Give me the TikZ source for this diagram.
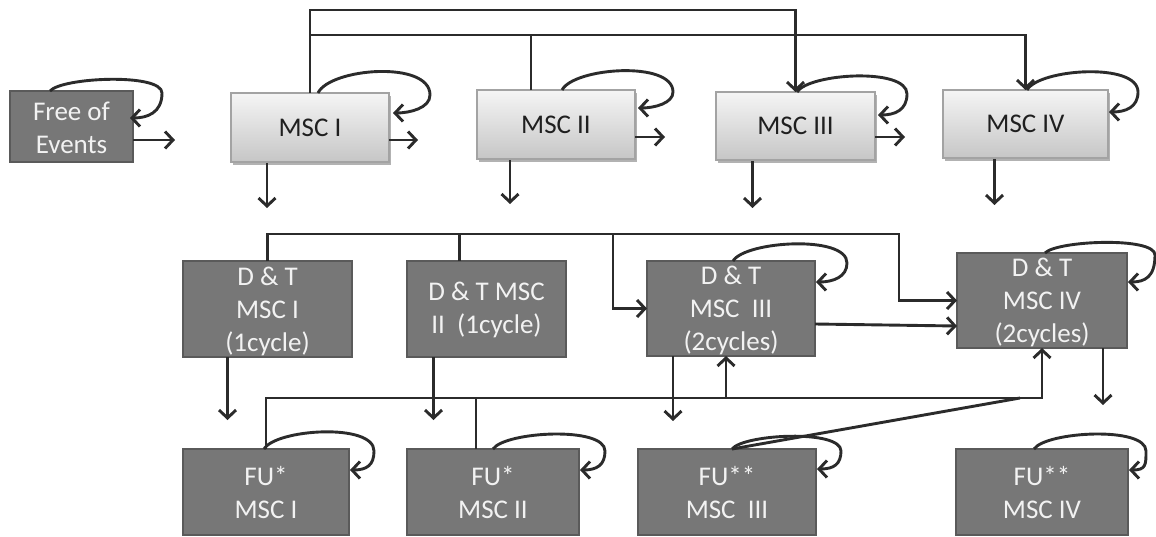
\documentclass[tikz,border=0pt]{standalone}
\usepackage{fontspec}
\setmainfont{Carlito}
\usetikzlibrary{arrows.meta,calc,shadows}

\definecolor{linecol}{HTML}{2B2B2B}
\definecolor{boxfill}{HTML}{777777}
\definecolor{boxline}{HTML}{5A5A5A}
\definecolor{lighttop}{HTML}{F5F5F5}
\definecolor{lightbot}{HTML}{C6C6C6}
\definecolor{lightline}{HTML}{A3A3A3}

% self-loop: node, start offset from north west, rise, reach beyond east,
% end depth below the top, end offset from east
\newcommand\selfarc[6]{%
  \draw[arr] ($(#1.north west)+(#2,0)$)
    .. controls +(12,-1.25*#3) and +(0,-1.65*#3-2) .. ($(#1.north east)+(#4,2)$)
    .. controls +(0,#5-7) and +(17,0) .. ($(#1.north east)+(#6,#5)$);}

\begin{document}
\begin{tikzpicture}[x=1pt,y=-1pt,
  every node/.style={inner sep=0pt,outer sep=0pt},
  darkbox/.style={rectangle,draw=boxline,fill=boxfill,line width=1.8pt},
  lightbox/.style={rectangle,draw=lightline,top color=lighttop,bottom color=lightbot,line width=1.3pt,
    drop shadow={shadow xshift=2pt,shadow yshift=-2.5pt,opacity=.3,fill=black}},
  wtext/.style={text=white!95!black,align=center,font=\fontsize{27}{33}\selectfont},
  btext/.style={text=black!88,align=center,font=\fontsize{27}{33}\selectfont},
  conn/.style={draw=linecol,line width=2.9pt},
  arr/.style={conn,-{Straight Barb[length=8pt,width=17pt]}},
]
\useasboundingbox (0,0) rectangle (1156,536);

% ---- first row: states ----
\node[darkbox,minimum width=123pt,minimum height=71pt] (fe) at (71.5,126.5) {};
\node[wtext] (fet) at ($(fe)+(0,1)$) {Free of\\Events};
\node[lightbox,minimum width=158pt,minimum height=69pt] (m1) at (310,127.5) {};
\node[btext] (m1t) at (m1) {MSC I};
\node[lightbox,minimum width=158pt,minimum height=69pt] (m2) at (556,124.5) {};
\node[btext] (m2t) at (m2) {MSC II};
\node[lightbox,minimum width=159pt,minimum height=68pt] (m3) at (795.5,126) {};
\node[btext] (m3t) at (m3) {MSC III};
\node[lightbox,minimum width=165pt,minimum height=68pt] (m4) at (1025.5,124) {};
\node[btext] (m4t) at (m4) {MSC IV};

% ---- second row: detection and treatment ----
\node[darkbox,minimum width=169pt,minimum height=96pt] (d1) at (267.5,309) {};
\node[wtext] (d1t) at ($(d1)+(0,2)$) {D \& T\\MSC I\\(1cycle)};
\node[darkbox,minimum width=159pt,minimum height=96pt] (d2) at (486.5,309) {};
\node[wtext] (d2t) at ($(d2)+(0,1)$) {D \& T MSC\\II\ \ (1cycle)};
\node[darkbox,minimum width=168pt,minimum height=95pt] (d3) at (731,308.5) {};
\node[wtext] (d3t) at ($(d3)+(0,2)$) {D \& T\\MSC\ \ III\\(2cycles)};
\node[darkbox,minimum width=170pt,minimum height=95pt] (d4) at (1042,300.5) {};
\node[wtext] (d4t) at ($(d4)+(0,2)$) {D \& T\\MSC IV\\(2cycles)};

% ---- third row: follow-up ----
\node[darkbox,minimum width=166pt,minimum height=86pt] (f1) at (266,492) {};
\node[wtext] (f1t) at (f1) {FU*\\MSC I};
\node[darkbox,minimum width=172pt,minimum height=86pt] (f2) at (493,492) {};
\node[wtext] (f2t) at (f2) {FU*\\MSC II};
\node[darkbox,minimum width=178pt,minimum height=86pt] (f3) at (727,492) {};
\node[wtext] (f3t) at (f3) {FU**\\MSC\ \ III};
\node[darkbox,minimum width=172pt,minimum height=86pt] (f4) at (1042,492) {};
\node[wtext] (f4t) at (f4) {FU**\\MSC IV};

% ---- self loops ----
\selfarc{fe}{40}{11}{29}{27}{-3}
\selfarc{m1}{87}{20}{41}{20}{4}
\selfarc{m2}{85}{18}{38}{18}{3}
\selfarc{m3}{81}{15}{32}{23}{3}
\selfarc{m4}{84}{17}{30}{22}{1}
\selfarc{d3}{86}{16}{32}{21}{1}
\selfarc{d4}{88}{10}{28}{29}{1}
\selfarc{f1}{81}{16}{25}{21}{1}
\selfarc{f2}{86}{14}{26}{21}{1}
\selfarc{f3}{94}{12}{25}{20}{1}
\selfarc{f4}{78}{14}{18}{21}{1}

% ---- first row: outgoing arrows ----
\draw[arr] ($(fe.east)+(0,13.5)$) -- ++(42,0);
\draw[arr] ($(m1.east)+(0,12.5)$) -- ++(29,0);
\draw[arr] ($(m2.east)+(0,12.5)$) -- ++(30,0);
\draw[arr] ($(m3.east)+(0,11)$) -- ++(30,0);
\draw[arr] ($(m1.south)+(-43,1)$) -- ++(0,45);
\draw[arr] ($(m2.south)+(-46,1)$) -- ++(0,44);
\draw[arr] ($(m3.south)+(-43,1)$) -- ++(0,47);
\draw[arr] ($(m4.south)+(-31,1)$) -- ++(0,46);

% ---- feedback lines over the first row ----
\coordinate (ya) at (0,10);
\coordinate (yb) at (0,35);
\draw[arr] (m1.north) -- (m1.north |- ya) -| (m3.north);
\draw[arr] (m1.north |- yb) -| (m4.north);
\coordinate (m2t) at ($(m2.north)+(-25,0)$);
\draw[conn] (m2t) -- (m2t |- yb);

% ---- lines over the second row ----
\coordinate (yc) at (0,234);
\coordinate (q4) at (899,234);
\coordinate (q3) at (613,234);
\draw[arr] (d1.north) |- (q4) |- (d4.west);
\draw[arr] (q3) |- (d3.west);
\coordinate (d2t) at ($(d2.north)+(-27,0)$);
\draw[conn] (d2t) -- (d2t |- yc);
\draw[arr] ($(d3.east)+(0,15.5)$) -- ($(d4.west)+(0,25.5)$);

% ---- second row: outgoing arrows ----
\draw[arr] ($(d1.south)+(-40,0)$) -- ++(0,63);
\draw[arr] ($(d2.south)+(-53,0)$) -- ++(0,63);
\draw[arr] ($(d3.south)+(-58,0)$) -- ++(0,65);
\draw[arr] ($(d4.south)+(61,0)$) -- ++(0,57);

% ---- lines over the third row ----
\coordinate (bb) at ($(d4.south)+(0,50)$);
\draw[arr] (f1.north) |- (bb) -- (d4.south);
\coordinate (f2t) at ($(f2.north)+(-17,0)$);
\draw[conn] (f2t) -- (f2t |- bb);
\coordinate (d3u) at ($(d3.south)+(-5,0)$);
\draw[arr] (d3u |- bb) -- (d3u);
\draw[conn] ($(bb)+(-22,0)$) -- ($(f3.north west)+(94,0)$);
\end{tikzpicture}
\end{document}
